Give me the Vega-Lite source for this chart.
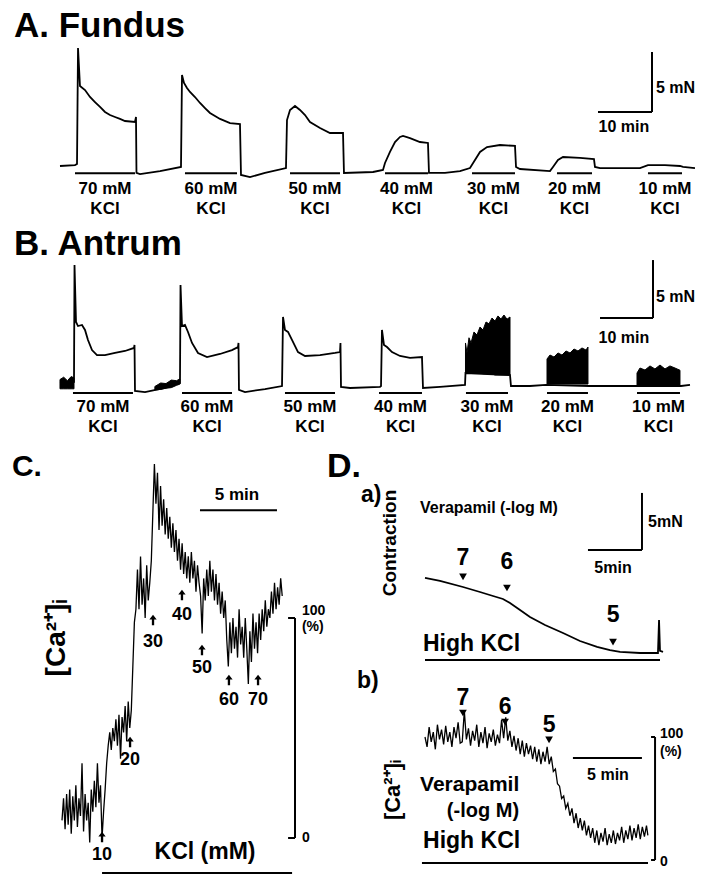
{
"$schema": "https://vega.github.io/schema/vega-lite/v6.json",
"padding": 0,
"spacing": 0,
"bounds": "flush",
"config": {"view": {"stroke": null}, "text": {"font": "Liberation Sans", "fontWeight": "bold", "color": "black"}},
"datasets": {
"fundus": [{"t":0,"v":0},{"t":2.83,"v":0.08},{"t":3.21,"v":0.17},{"t":3.40,"v":9.83},{"t":3.77,"v":6.67},{"t":4.72,"v":6.33},{"t":5.66,"v":5.75},{"t":6.60,"v":5.33},{"t":7.55,"v":4.92},{"t":8.49,"v":4.50},{"t":9.43,"v":4.25},{"t":10.38,"v":4.08},{"t":11.32,"v":3.92},{"t":12.26,"v":3.75},{"t":14.15,"v":3.67},{"t":14.34,"v":4.08},{"t":14.43,"v":-0.58},{"t":15.09,"v":-0.67},{"t":18.87,"v":-0.42},{"t":22.83,"v":-0.08},{"t":23.02,"v":7.58},{"t":23.40,"v":6.92},{"t":23.96,"v":6.50},{"t":24.53,"v":6.17},{"t":25.47,"v":5.75},{"t":26.42,"v":5.25},{"t":27.36,"v":4.83},{"t":28.30,"v":4.42},{"t":30.19,"v":3.92},{"t":32.08,"v":3.58},{"t":33.96,"v":3.50},{"t":34.15,"v":-0.75},{"t":35.85,"v":-0.92},{"t":38.68,"v":-0.58},{"t":42.64,"v":-0.17},{"t":42.83,"v":3.83},{"t":43.40,"v":4.67},{"t":44.34,"v":5.00},{"t":45.28,"v":4.67},{"t":46.23,"v":4.25},{"t":47.17,"v":3.67},{"t":49.06,"v":3.17},{"t":50.94,"v":2.75},{"t":53.40,"v":2.75},{"t":53.58,"v":-0.58},{"t":59.06,"v":-0.50},{"t":60.94,"v":-0.33},{"t":61.32,"v":0.25},{"t":62.26,"v":1.17},{"t":63.21,"v":2.00},{"t":64.15,"v":2.42},{"t":64.72,"v":2.50},{"t":66.04,"v":2.33},{"t":67.92,"v":2.00},{"t":69.43,"v":1.92},{"t":69.62,"v":-0.58},{"t":72.64,"v":-0.58},{"t":75.47,"v":-0.42},{"t":77.36,"v":-0.17},{"t":78.30,"v":0.50},{"t":79.25,"v":1.17},{"t":80.57,"v":1.58},{"t":83.02,"v":1.75},{"t":85.85,"v":1.67},{"t":86.04,"v":-0.08},{"t":86.79,"v":-0.25},{"t":92.45,"v":-0.42},{"t":93.02,"v":-0.08},{"t":93.96,"v":0.50},{"t":94.91,"v":0.75},{"t":98.11,"v":0.67},{"t":100.75,"v":0.58},{"t":100.94,"v":-0.08},{"t":101.89,"v":-0.17},{"t":109.43,"v":-0.17},{"t":110.94,"v":0.08},{"t":114.15,"v":0.08},{"t":116.98,"v":0.00},{"t":117.55,"v":-0.08},{"t":119.81,"v":-0.17}],
"antrum": [{"t":0,"v":0},{"t":2.64,"v":0.09},{"t":2.74,"v":10.17},{"t":3.02,"v":5.26},{"t":3.40,"v":4.91},{"t":4.15,"v":5.00},{"t":4.72,"v":4.57},{"t":5.28,"v":3.71},{"t":6.04,"v":2.84},{"t":6.98,"v":2.41},{"t":8.49,"v":2.41},{"t":10.38,"v":2.59},{"t":12.26,"v":2.76},{"t":13.96,"v":3.02},{"t":14.06,"v":3.28},{"t":14.15,"v":-0.69},{"t":16.04,"v":-0.78},{"t":19.81,"v":-0.43},{"t":22.64,"v":0},{"t":22.74,"v":8.45},{"t":23.02,"v":4.91},{"t":23.58,"v":5.00},{"t":24.15,"v":4.40},{"t":24.91,"v":3.45},{"t":26.04,"v":2.59},{"t":27.74,"v":2.24},{"t":30.19,"v":2.50},{"t":32.45,"v":2.84},{"t":33.58,"v":3.10},{"t":33.68,"v":3.45},{"t":33.77,"v":-0.60},{"t":34.91,"v":-0.78},{"t":38.68,"v":-0.52},{"t":41.89,"v":-0.26},{"t":42.08,"v":5.69},{"t":42.45,"v":4.57},{"t":43.02,"v":4.40},{"t":43.77,"v":3.71},{"t":44.91,"v":2.67},{"t":46.23,"v":2.33},{"t":49.06,"v":2.41},{"t":51.89,"v":2.59},{"t":52.83,"v":2.67},{"t":52.92,"v":3.45},{"t":53.02,"v":-0.34},{"t":54.72,"v":-0.43},{"t":60.38,"v":-0.34},{"t":60.57,"v":-0.26},{"t":60.75,"v":4.57},{"t":61.13,"v":3.28},{"t":61.70,"v":3.10},{"t":62.64,"v":2.67},{"t":64.15,"v":2.33},{"t":66.04,"v":2.16},{"t":68.30,"v":2.24},{"t":68.49,"v":-0.43},{"t":71.70,"v":-0.34},{"t":76.42,"v":-0.17},{"t":76.51,"v":0.86},{"t":84.91,"v":0.69},{"t":85.09,"v":-0.26},{"t":88.68,"v":-0.26},{"t":91.70,"v":-0.17},{"t":99.81,"v":-0.26},{"t":105.66,"v":-0.26},{"t":108.68,"v":-0.26},{"t":117.17,"v":-0.26},{"t":118.87,"v":-0.17}],
"antrumBand": [
{"g":"pre70","t":0,"v":0.3,"v2":-0.5},{"g":"pre70","t":0.7,"v":0.5,"v2":-0.5},{"g":"pre70","t":1.4,"v":0.2,"v2":-0.5},{"g":"pre70","t":2.1,"v":0.55,"v2":-0.5},{"g":"pre70","t":2.64,"v":0.45,"v2":-0.5},
{"g":"pre60","t":17.9,"v":-0.3,"v2":-0.6},{"g":"pre60","t":19,"v":0.0,"v2":-0.55},{"g":"pre60","t":20,"v":-0.05,"v2":-0.45},{"g":"pre60","t":21,"v":0.25,"v2":-0.4},{"g":"pre60","t":22,"v":0.2,"v2":-0.2},{"g":"pre60","t":22.6,"v":0.35,"v2":-0.1},
{"g":"k30","t":76.51,"v":3.45,"v2":0.86},{"g":"k30","t":76.79,"v":2.59,"v2":0.86},{"g":"k30","t":77.17,"v":3.90,"v2":0.86},{"g":"k30","t":77.55,"v":3.45,"v2":0.86},{"g":"k30","t":78.11,"v":4.40,"v2":0.86},{"g":"k30","t":78.68,"v":4.14,"v2":0.86},{"g":"k30","t":79.25,"v":4.83,"v2":0.86},{"g":"k30","t":79.81,"v":4.57,"v2":0.80},{"g":"k30","t":80.38,"v":5.26,"v2":0.80},{"g":"k30","t":80.94,"v":5.10,"v2":0.78},{"g":"k30","t":81.51,"v":5.60,"v2":0.78},{"g":"k30","t":82.08,"v":5.34,"v2":0.69},{"g":"k30","t":82.64,"v":5.78,"v2":0.69},{"g":"k30","t":83.21,"v":5.52,"v2":0.69},{"g":"k30","t":83.77,"v":5.86,"v2":0.69},{"g":"k30","t":84.34,"v":5.50,"v2":0.69},{"g":"k30","t":84.91,"v":5.69,"v2":0.69},
{"g":"k20","t":91.89,"v":2.07,"v2":-0.09},{"g":"k20","t":92.45,"v":2.41,"v2":-0.09},{"g":"k20","t":93.21,"v":2.24,"v2":-0.09},{"g":"k20","t":93.96,"v":2.59,"v2":-0.09},{"g":"k20","t":94.72,"v":2.41,"v2":-0.09},{"g":"k20","t":95.47,"v":2.76,"v2":-0.09},{"g":"k20","t":96.23,"v":2.59,"v2":-0.09},{"g":"k20","t":96.98,"v":2.93,"v2":-0.09},{"g":"k20","t":97.74,"v":2.76,"v2":-0.09},{"g":"k20","t":98.49,"v":3.02,"v2":-0.09},{"g":"k20","t":99.25,"v":2.84,"v2":-0.09},{"g":"k20","t":99.62,"v":3.10,"v2":-0.09},
{"g":"k10","t":108.87,"v":0.86,"v2":-0.17},{"g":"k10","t":109.43,"v":1.29,"v2":-0.17},{"g":"k10","t":110.38,"v":1.12,"v2":-0.17},{"g":"k10","t":111.32,"v":1.47,"v2":-0.17},{"g":"k10","t":112.26,"v":1.21,"v2":-0.17},{"g":"k10","t":113.21,"v":1.55,"v2":-0.17},{"g":"k10","t":114.15,"v":1.21,"v2":-0.17},{"g":"k10","t":115.09,"v":1.47,"v2":-0.17},{"g":"k10","t":116.04,"v":1.29,"v2":-0.17},{"g":"k10","t":116.98,"v":1.10,"v2":-0.17}],
"caKCl": [{"t":0.0,"v":8},{"t":0.1,"v":18},{"t":0.2,"v":4},{"t":0.3,"v":20},{"t":0.4,"v":6},{"t":0.5,"v":22},{"t":0.6,"v":2},{"t":0.7,"v":19},{"t":0.8,"v":8},{"t":0.9,"v":24},{"t":1.0,"v":5},{"t":1.1,"v":18},{"t":1.2,"v":10},{"t":1.3,"v":34},{"t":1.4,"v":3},{"t":1.5,"v":20},{"t":1.6,"v":8},{"t":1.7,"v":16},{"t":1.8,"v":-2},{"t":1.9,"v":22},{"t":2.0,"v":12},{"t":2.1,"v":26},{"t":2.2,"v":14},{"t":2.3,"v":34},{"t":2.4,"v":16},{"t":2.5,"v":24},{"t":2.6,"v":0},{"t":2.7,"v":12},{"t":2.8,"v":22},{"t":2.9,"v":34},{"t":3.0,"v":42},{"t":3.1,"v":48},{"t":3.2,"v":40},{"t":3.3,"v":50},{"t":3.4,"v":44},{"t":3.5,"v":54},{"t":3.6,"v":42},{"t":3.7,"v":56},{"t":3.8,"v":36},{"t":3.9,"v":55},{"t":4.0,"v":48},{"t":4.1,"v":60},{"t":4.2,"v":44},{"t":4.3,"v":62},{"t":4.4,"v":50},{"t":4.5,"v":58},{"t":4.6,"v":78},{"t":4.7,"v":98},{"t":4.8,"v":104},{"t":4.9,"v":122},{"t":5.0,"v":104},{"t":5.1,"v":128},{"t":5.2,"v":106},{"t":5.3,"v":118},{"t":5.4,"v":100},{"t":5.5,"v":124},{"t":5.6,"v":108},{"t":5.7,"v":116},{"t":5.8,"v":126},{"t":5.9,"v":148},{"t":6.0,"v":170},{"t":6.1,"v":152},{"t":6.2,"v":166},{"t":6.3,"v":140},{"t":6.4,"v":160},{"t":6.5,"v":142},{"t":6.6,"v":154},{"t":6.7,"v":138},{"t":6.8,"v":150},{"t":6.9,"v":136},{"t":7.0,"v":146},{"t":7.1,"v":132},{"t":7.2,"v":143},{"t":7.3,"v":130},{"t":7.4,"v":140},{"t":7.5,"v":126},{"t":7.6,"v":136},{"t":7.7,"v":122},{"t":7.8,"v":134},{"t":7.9,"v":120},{"t":8.0,"v":130},{"t":8.1,"v":118},{"t":8.2,"v":128},{"t":8.3,"v":116},{"t":8.4,"v":130},{"t":8.5,"v":118},{"t":8.6,"v":126},{"t":8.7,"v":112},{"t":8.8,"v":124},{"t":8.9,"v":116},{"t":9.0,"v":110},{"t":9.1,"v":93},{"t":9.2,"v":118},{"t":9.3,"v":108},{"t":9.4,"v":122},{"t":9.5,"v":110},{"t":9.6,"v":126},{"t":9.7,"v":112},{"t":9.8,"v":122},{"t":9.9,"v":108},{"t":10.0,"v":120},{"t":10.1,"v":106},{"t":10.2,"v":116},{"t":10.3,"v":102},{"t":10.4,"v":112},{"t":10.5,"v":100},{"t":10.6,"v":108},{"t":10.7,"v":90},{"t":10.8,"v":78},{"t":10.9,"v":98},{"t":11.0,"v":84},{"t":11.1,"v":100},{"t":11.2,"v":86},{"t":11.3,"v":96},{"t":11.4,"v":82},{"t":11.5,"v":104},{"t":11.6,"v":88},{"t":11.7,"v":96},{"t":11.8,"v":82},{"t":11.9,"v":100},{"t":12.0,"v":86},{"t":12.1,"v":70},{"t":12.2,"v":94},{"t":12.3,"v":80},{"t":12.4,"v":102},{"t":12.5,"v":86},{"t":12.6,"v":98},{"t":12.7,"v":84},{"t":12.8,"v":102},{"t":12.9,"v":90},{"t":13.0,"v":104},{"t":13.1,"v":94},{"t":13.2,"v":108},{"t":13.3,"v":96},{"t":13.4,"v":104},{"t":13.5,"v":100},{"t":13.6,"v":112},{"t":13.7,"v":102},{"t":13.8,"v":116},{"t":13.9,"v":104},{"t":14.0,"v":114},{"t":14.1,"v":106},{"t":14.2,"v":118},{"t":14.3,"v":110}],
"contraction": [{"t":0,"v":6.58},{"t":1.39,"v":6.32},{"t":3.52,"v":5.79},{"t":5.09,"v":5.35},{"t":6.30,"v":5.00},{"t":7.22,"v":4.74},{"t":7.87,"v":4.39},{"t":8.80,"v":3.77},{"t":9.72,"v":3.16},{"t":11.11,"v":2.46},{"t":12.78,"v":1.75},{"t":14.35,"v":1.05},{"t":15.93,"v":0.53},{"t":17.13,"v":0.26},{"t":18.06,"v":0.09},{"t":19.91,"v":0},{"t":21.57,"v":0},{"t":21.67,"v":2.89},{"t":21.76,"v":0.18},{"t":22.04,"v":0.09}],
"caVera": [{"t":0,"v":100},{"t":0.15,"v":92},{"t":0.3,"v":108},{"t":0.45,"v":96},{"t":0.6,"v":104},{"t":0.75,"v":90},{"t":0.9,"v":110},{"t":1.05,"v":98},{"t":1.2,"v":106},{"t":1.35,"v":94},{"t":1.5,"v":109},{"t":1.65,"v":96},{"t":1.8,"v":104},{"t":1.95,"v":92},{"t":2.1,"v":108},{"t":2.25,"v":99},{"t":2.4,"v":112},{"t":2.55,"v":95},{"t":2.7,"v":96},{"t":2.85,"v":121},{"t":3.0,"v":98},{"t":3.15,"v":107},{"t":3.3,"v":93},{"t":3.45,"v":105},{"t":3.6,"v":97},{"t":3.75,"v":110},{"t":3.9,"v":92},{"t":4.05,"v":104},{"t":4.2,"v":95},{"t":4.35,"v":108},{"t":4.5,"v":91},{"t":4.65,"v":103},{"t":4.8,"v":96},{"t":4.95,"v":106},{"t":5.1,"v":93},{"t":5.25,"v":102},{"t":5.4,"v":95},{"t":5.55,"v":114},{"t":5.7,"v":99},{"t":5.85,"v":116},{"t":6.0,"v":97},{"t":6.15,"v":105},{"t":6.3,"v":92},{"t":6.45,"v":101},{"t":6.6,"v":89},{"t":6.75,"v":99},{"t":6.9,"v":86},{"t":7.05,"v":97},{"t":7.2,"v":84},{"t":7.35,"v":95},{"t":7.5,"v":86},{"t":7.65,"v":93},{"t":7.8,"v":82},{"t":7.95,"v":92},{"t":8.1,"v":80},{"t":8.25,"v":90},{"t":8.4,"v":78},{"t":8.55,"v":88},{"t":8.7,"v":80},{"t":8.85,"v":92},{"t":9.0,"v":78},{"t":9.15,"v":84},{"t":9.3,"v":72},{"t":9.45,"v":74},{"t":9.6,"v":62},{"t":9.75,"v":60},{"t":9.9,"v":50},{"t":10.05,"v":52},{"t":10.2,"v":42},{"t":10.35,"v":46},{"t":10.5,"v":36},{"t":10.65,"v":42},{"t":10.8,"v":30},{"t":10.95,"v":38},{"t":11.1,"v":26},{"t":11.25,"v":34},{"t":11.4,"v":24},{"t":11.55,"v":32},{"t":11.7,"v":20},{"t":11.85,"v":28},{"t":12.0,"v":18},{"t":12.15,"v":26},{"t":12.3,"v":14},{"t":12.45,"v":24},{"t":12.6,"v":12},{"t":12.75,"v":22},{"t":12.9,"v":15},{"t":13.05,"v":26},{"t":13.2,"v":12},{"t":13.35,"v":21},{"t":13.5,"v":14},{"t":13.65,"v":24},{"t":13.8,"v":13},{"t":13.95,"v":22},{"t":14.1,"v":16},{"t":14.25,"v":27},{"t":14.4,"v":14},{"t":14.55,"v":24},{"t":14.7,"v":17},{"t":14.85,"v":28},{"t":15.0,"v":16},{"t":15.15,"v":26},{"t":15.3,"v":18},{"t":15.45,"v":29},{"t":15.6,"v":17},{"t":15.75,"v":27},{"t":15.9,"v":19},{"t":16.05,"v":28},{"t":16.15,"v":20}]
},
"vconcat": [
{
"width": 705, "height": 220,
"encoding": {
"x": {"field": "t", "type": "quantitative", "scale": {"domain": [-11.32, 121.7], "nice": false, "zero": false}, "axis": null},
"y": {"field": "v", "type": "quantitative", "scale": {"domain": [-4.5, 13.833], "nice": false, "zero": false}, "axis": null}
},
"layer": [
{"data": {"name": "fundus"}, "mark": {"type": "line", "color": "black", "strokeWidth": 1.8}},
{"data": {"values": [
{"t":2.83,"t2":14.15,"v":-0.6,"v2":-0.6},{"t":23.58,"t2":33.40,"v":-0.6,"v2":-0.6},{"t":43.40,"t2":52.83,"v":-0.6,"v2":-0.6},{"t":61.32,"t2":69.43,"v":-0.6,"v2":-0.6},{"t":77.74,"t2":85.85,"v":-0.6,"v2":-0.6},{"t":93.77,"t2":100.38,"v":-0.6,"v2":-0.6},{"t":110.94,"t2":117.36,"v":-0.6,"v2":-0.6},
{"t":101.51,"t2":111.7,"v":4.5,"v2":4.5},{"t":111.7,"t2":111.7,"v":4.5,"v2":9.5}]},
"mark": {"type": "rule", "color": "black", "strokeWidth": 2},
"encoding": {"x2": {"field": "t2"}, "y2": {"field": "v2"}}},
{"data": {"values": [
{"t":8.49,"v":-1.92,"label":"70 mM"},{"t":8.49,"v":-3.58,"label":"KCl"},
{"t":28.49,"v":-1.92,"label":"60 mM"},{"t":28.49,"v":-3.58,"label":"KCl"},
{"t":48.11,"v":-1.92,"label":"50 mM"},{"t":48.11,"v":-3.58,"label":"KCl"},
{"t":65.38,"v":-1.92,"label":"40 mM"},{"t":65.38,"v":-3.58,"label":"KCl"},
{"t":81.79,"v":-1.92,"label":"30 mM"},{"t":81.79,"v":-3.58,"label":"KCl"},
{"t":97.08,"v":-1.92,"label":"20 mM"},{"t":97.08,"v":-3.58,"label":"KCl"},
{"t":114.15,"v":-1.92,"label":"10 mM"},{"t":114.15,"v":-3.58,"label":"KCl"}]},
"mark": {"type": "text", "fontSize": 17, "align": "center", "baseline": "middle"},
"encoding": {"text": {"field": "label"}}},
{"data": {"values": [{"t":-8.68,"v":10.75,"label":"A. Fundus"}]},
"mark": {"type": "text", "fontSize": 35, "align": "left", "baseline": "alphabetic"},
"encoding": {"text": {"field": "label"}}},
{"data": {"values": [{"t":112.45,"v":6.5,"label":"5 mN"}]},
"mark": {"type": "text", "fontSize": 16, "align": "left", "baseline": "middle"},
"encoding": {"text": {"field": "label"}}},
{"data": {"values": [{"t":106.4,"v":3.25,"label":"10 min"}]},
"mark": {"type": "text", "fontSize": 16, "align": "center", "baseline": "middle"},
"encoding": {"text": {"field": "label"}}}
]
},
{
"width": 705, "height": 220,
"encoding": {
"x": {"field": "t", "type": "quantitative", "scale": {"domain": [-11.32, 121.7], "nice": false, "zero": false}, "axis": null},
"y": {"field": "v", "type": "quantitative", "scale": {"domain": [-4.914, 14.052], "nice": false, "zero": false}, "axis": null}
},
"layer": [
{"data": {"name": "antrumBand"}, "mark": {"type": "area", "color": "black", "stroke": "black", "strokeWidth": 1},
"encoding": {"y2": {"field": "v2"}, "detail": {"field": "g", "type": "nominal"}}},
{"data": {"name": "antrum"}, "mark": {"type": "line", "color": "black", "strokeWidth": 1.8}},
{"data": {"values": [
{"t":2.45,"t2":13.77,"v":-0.86,"v2":-0.86},{"t":23.02,"t2":32.45,"v":-0.86,"v2":-0.86},{"t":42.45,"t2":51.89,"v":-0.86,"v2":-0.86},{"t":60.19,"t2":68.30,"v":-0.86,"v2":-0.86},{"t":76.60,"t2":84.53,"v":-0.86,"v2":-0.86},{"t":91.89,"t2":99.62,"v":-0.86,"v2":-0.86},{"t":108.87,"t2":116.98,"v":-0.86,"v2":-0.86},
{"t":101.89,"t2":111.89,"v":5.6,"v2":5.6},{"t":111.89,"t2":111.89,"v":5.6,"v2":10.6}]},
"mark": {"type": "rule", "color": "black", "strokeWidth": 2},
"encoding": {"x2": {"field": "t2"}, "y2": {"field": "v2"}}},
{"data": {"values": [
{"t":8.11,"v":-2.07,"label":"70 mM"},{"t":8.11,"v":-3.79,"label":"KCl"},
{"t":27.74,"v":-2.07,"label":"60 mM"},{"t":27.74,"v":-3.79,"label":"KCl"},
{"t":47.17,"v":-2.07,"label":"50 mM"},{"t":47.17,"v":-3.79,"label":"KCl"},
{"t":64.25,"v":-2.07,"label":"40 mM"},{"t":64.25,"v":-3.79,"label":"KCl"},
{"t":80.57,"v":-2.07,"label":"30 mM"},{"t":80.57,"v":-3.79,"label":"KCl"},
{"t":95.75,"v":-2.07,"label":"20 mM"},{"t":95.75,"v":-3.79,"label":"KCl"},
{"t":112.92,"v":-2.07,"label":"10 mM"},{"t":112.92,"v":-3.79,"label":"KCl"}]},
"mark": {"type": "text", "fontSize": 17, "align": "center", "baseline": "middle"},
"encoding": {"text": {"field": "label"}}},
{"data": {"values": [{"t":-8.68,"v":11.03,"label":"B. Antrum"}]},
"mark": {"type": "text", "fontSize": 35, "align": "left", "baseline": "alphabetic"},
"encoding": {"text": {"field": "label"}}},
{"data": {"values": [{"t":112.45,"v":7.41,"label":"5 mN"}]},
"mark": {"type": "text", "fontSize": 16, "align": "left", "baseline": "middle"},
"encoding": {"text": {"field": "label"}}},
{"data": {"values": [{"t":106.4,"v":3.88,"label":"10 min"}]},
"mark": {"type": "text", "fontSize": 16, "align": "center", "baseline": "middle"},
"encoding": {"text": {"field": "label"}}}
]
},
{
"spacing": 0,
"bounds": "flush",
"hconcat": [
{
"width": 325, "height": 436,
"encoding": {
"x": {"field": "t", "type": "quantitative", "scale": {"domain": [-4.026, 17.078], "nice": false, "zero": false}, "axis": null},
"y": {"field": "v", "type": "quantitative", "scale": {"domain": [-17.27, 180.91], "nice": false, "zero": false}, "axis": null}
},
"layer": [
{"data": {"name": "caKCl"}, "mark": {"type": "line", "color": "black", "strokeWidth": 1.3}},
{"data": {"values": [
{"t":2.60,"t2":14.94,"v":-15.9,"v2":-15.9},{"t":8.96,"t2":13.96,"v":149,"v2":149},
{"t":15.13,"t2":15.13,"v":0,"v2":100},{"t":14.68,"t2":15.13,"v":100,"v2":100},{"t":14.68,"t2":15.13,"v":0,"v2":0}]},
"mark": {"type": "rule", "color": "black", "strokeWidth": 2},
"encoding": {"x2": {"field": "t2"}, "y2": {"field": "v2"}}},
{"data": {"values": [{"t":2.60,"v":0.45},{"t":4.42,"v":43.6},{"t":5.91,"v":99.1},{"t":7.79,"v":110.5},{"t":9.09,"v":85.5},{"t":10.84,"v":71.8},{"t":12.73,"v":71.8}]},
"mark": {"type": "point", "shape": "M0,-1L0.7,-0.1L0.22,-0.1L0.22,1L-0.22,1L-0.22,-0.1L-0.7,-0.1Z", "filled": true, "color": "black", "opacity": 1, "size": 110}},
{"data": {"values": [{"t":2.60,"v":-7.7,"label":"10"},{"t":4.42,"v":35.5,"label":"20"},{"t":5.91,"v":89.1,"label":"30"},{"t":7.79,"v":101.4,"label":"40"},{"t":9.09,"v":77.3,"label":"50"},{"t":10.84,"v":62.7,"label":"60"},{"t":12.73,"v":62.7,"label":"70"}]},
"mark": {"type": "text", "fontSize": 18, "align": "center", "baseline": "middle"},
"encoding": {"text": {"field": "label"}}},
{"data": {"values": [{"t":-3.25,"v":164.5,"label":"C."}]},
"mark": {"type": "text", "fontSize": 30, "align": "left", "baseline": "alphabetic"},
"encoding": {"text": {"field": "label"}}},
{"data": {"values": [{"t":-0.32,"v":90.9,"label":"[Ca²⁺]ᵢ"}]},
"mark": {"type": "text", "fontSize": 28, "align": "center", "baseline": "middle", "angle": 270},
"encoding": {"text": {"field": "label"}}},
{"data": {"values": [{"t":11.36,"v":156,"label":"5 min"}]},
"mark": {"type": "text", "fontSize": 17, "align": "center", "baseline": "middle"},
"encoding": {"text": {"field": "label"}}},
{"data": {"values": [{"t":9.29,"v":-6.4,"label":"KCl (mM)"}]},
"mark": {"type": "text", "fontSize": 23, "align": "center", "baseline": "middle"},
"encoding": {"text": {"field": "label"}}},
{"data": {"values": [{"t":15.58,"v":103.2,"label":"100"},{"t":15.58,"v":95.9,"label":"(%)"},{"t":15.58,"v":0,"label":"0"}]},
"mark": {"type": "text", "fontSize": 14, "align": "left", "baseline": "middle"},
"encoding": {"text": {"field": "label"}}}
]
},
{
"spacing": 0,
"bounds": "flush",
"vconcat": [
{
"width": 380, "height": 230,
"encoding": {
"x": {"field": "t", "type": "quantitative", "scale": {"domain": [-9.259, 25.926], "nice": false, "zero": false}, "axis": null},
"y": {"field": "v", "type": "quantitative", "scale": {"domain": [-1.491, 18.684], "nice": false, "zero": false}, "axis": null}
},
"layer": [
{"data": {"name": "contraction"}, "mark": {"type": "line", "color": "black", "strokeWidth": 1.8}},
{"data": {"values": [
{"t":0,"t2":21.76,"v":-0.61,"v2":-0.61},{"t":15.09,"t2":20.09,"v":9.04,"v2":9.04},{"t":20.09,"t2":20.09,"v":9.04,"v2":14.04}]},
"mark": {"type": "rule", "color": "black", "strokeWidth": 2},
"encoding": {"x2": {"field": "t2"}, "y2": {"field": "v2"}}},
{"data": {"values": [{"t":3.52,"v":6.67},{"t":7.59,"v":5.70},{"t":17.41,"v":0.96}]},
"mark": {"type": "point", "shape": "triangle-down", "filled": true, "color": "black", "opacity": 1, "size": 60}},
{"data": {"values": [{"t":3.52,"v":8.33,"label":"7"},{"t":7.59,"v":7.98,"label":"6"},{"t":17.41,"v":3.33,"label":"5"}]},
"mark": {"type": "text", "fontSize": 23, "align": "center", "baseline": "middle"},
"encoding": {"text": {"field": "label"}}},
{"data": {"values": [{"t":-9.07,"v":15.44,"label":"D."}]},
"mark": {"type": "text", "fontSize": 34, "align": "left", "baseline": "alphabetic"},
"encoding": {"text": {"field": "label"}}},
{"data": {"values": [{"t":-5.93,"v":13.25,"label":"a)"},{"t":-0.19,"v":0.18,"label":"High KCl"}]},
"mark": {"type": "text", "fontSize": 23, "align": "left", "baseline": "alphabetic"},
"encoding": {"text": {"field": "label"}}},
{"data": {"values": [{"t":-0.46,"v":12.72,"label":"Verapamil (-log M)"},{"t":20.65,"v":11.49,"label":"5mN"}]},
"mark": {"type": "text", "fontSize": 16, "align": "left", "baseline": "middle"},
"encoding": {"text": {"field": "label"}}},
{"data": {"values": [{"t":17.41,"v":7.46,"label":"5min"}]},
"mark": {"type": "text", "fontSize": 16, "align": "center", "baseline": "middle"},
"encoding": {"text": {"field": "label"}}},
{"data": {"values": [{"t":-3.24,"v":9.65,"label":"Contraction"}]},
"mark": {"type": "text", "fontSize": 19, "align": "center", "baseline": "middle", "angle": 270},
"encoding": {"text": {"field": "label"}}}
]
},
{
"width": 380, "height": 206,
"encoding": {
"x": {"field": "t", "type": "quantitative", "scale": {"domain": [-7.246, 20.29], "nice": false, "zero": false}, "axis": null},
"y": {"field": "v", "type": "quantitative", "scale": {"domain": [-13.01, 154.47], "nice": false, "zero": false}, "axis": null}
},
"layer": [
{"data": {"name": "caVera"}, "mark": {"type": "line", "color": "black", "strokeWidth": 1.3}},
{"data": {"values": [
{"t":-0.22,"t2":16.16,"v":-2.4,"v2":-2.4},{"t":10.72,"t2":15.72,"v":82.9,"v2":82.9},
{"t":16.67,"t2":16.67,"v":0,"v2":100},{"t":16.38,"t2":16.67,"v":100,"v2":100},{"t":16.38,"t2":16.67,"v":0,"v2":0}]},
"mark": {"type": "rule", "color": "black", "strokeWidth": 2},
"encoding": {"x2": {"field": "t2"}, "y2": {"field": "v2"}}},
{"data": {"values": [{"t":2.75,"v":119.5},{"t":5.80,"v":112.2},{"t":8.99,"v":97.6}]},
"mark": {"type": "point", "shape": "triangle-down", "filled": true, "color": "black", "opacity": 1, "size": 60}},
{"data": {"values": [{"t":2.75,"v":131.7,"label":"7"},{"t":5.80,"v":124.4,"label":"6"},{"t":8.99,"v":109.8,"label":"5"}]},
"mark": {"type": "text", "fontSize": 23, "align": "center", "baseline": "middle"},
"encoding": {"text": {"field": "label"}}},
{"data": {"values": [{"t":-4.93,"v":139.8,"label":"b)"},{"t":-0.14,"v":9.8,"label":"High KCl"}]},
"mark": {"type": "text", "fontSize": 23, "align": "left", "baseline": "alphabetic"},
"encoding": {"text": {"field": "label"}}},
{"data": {"values": [{"t":13.26,"v":69.1,"label":"5 min"}]},
"mark": {"type": "text", "fontSize": 16, "align": "center", "baseline": "middle"},
"encoding": {"text": {"field": "label"}}},
{"data": {"values": [{"t":17.03,"v":102.4,"label":"100"},{"t":17.03,"v":87.8,"label":"(%)"},{"t":17.03,"v":-1.6,"label":"0"}]},
"mark": {"type": "text", "fontSize": 14, "align": "left", "baseline": "middle"},
"encoding": {"text": {"field": "label"}}},
{"data": {"values": [{"t":-2.32,"v":56.9,"label":"[Ca²⁺]ᵢ"}]},
"mark": {"type": "text", "fontSize": 22, "align": "center", "baseline": "middle", "angle": 270},
"encoding": {"text": {"field": "label"}}},
{"data": {"values": [{"t":-0.36,"v":56.1,"label":"Verapamil"}]},
"mark": {"type": "text", "fontSize": 21, "align": "left", "baseline": "alphabetic"},
"encoding": {"text": {"field": "label"}}},
{"data": {"values": [{"t":4.2,"v":39.8,"label":"(-log M)"}]},
"mark": {"type": "text", "fontSize": 20, "align": "center", "baseline": "middle"},
"encoding": {"text": {"field": "label"}}}
]
}
]
}
]
}
]
}
